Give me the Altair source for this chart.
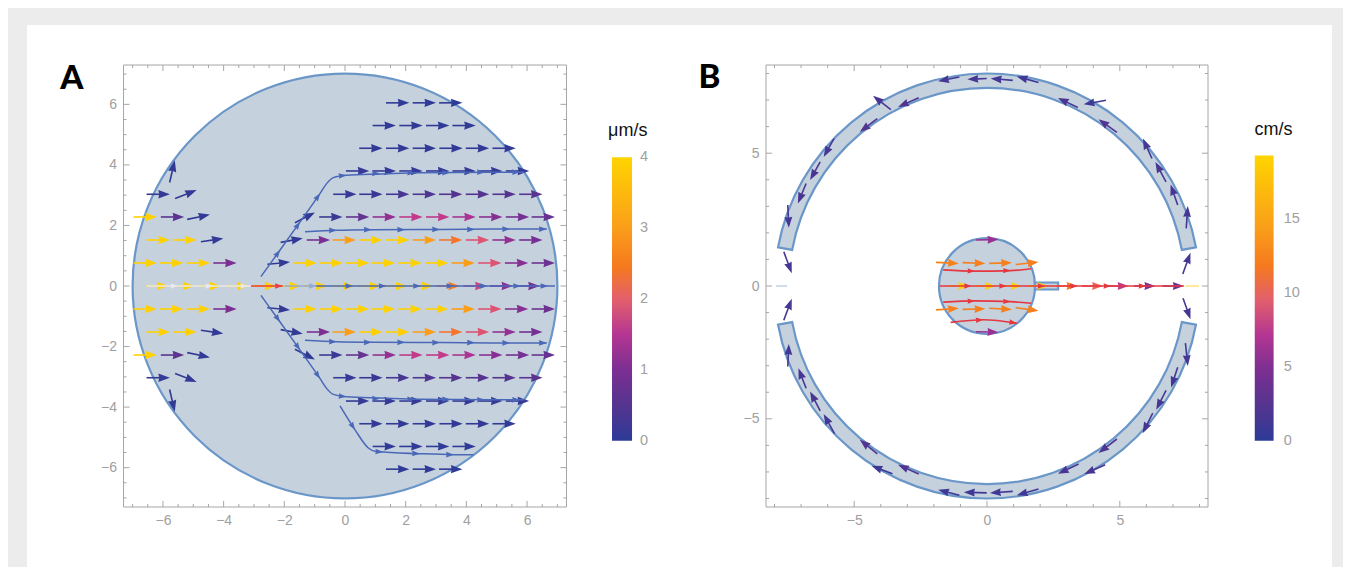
import math
import altair as alt
import pandas as pd

# ---------- panel geometry values (data units) ----------
A_DOMAIN = 7.3
B_DOMAIN = 8.32
A_TICK_LABELS = [-6, -4, -2, 0, 2, 4, 6]
B_TICK_LABELS = [-5, 0, 5]
A_TICK_ALL = [i * 0.5 for i in range(-14, 15)]
B_TICK_ALL = list(range(-8, 9))

# ---------- colour bars ----------
A_STOPS = [0, 0.5, 1, 1.5, 2, 2.45, 3, 4]
B_STOPS = [0, 2.4, 4.8, 7.2, 9.6, 11.8, 14.4, 19.3]
BAR_COLORS = ["#2c3b97", "#55348f", "#7b2f92", "#b53692", "#e2606b", "#f5791f", "#fa9e1a", "#ffd400"]
A_BAR_VALUES = [0, 1, 2, 3, 4]
B_BAR_VALUES = [0, 5, 10, 15]
A_BAR_TITLE = "μm/s"
B_BAR_TITLE = "cm/s"
# bar placement in each panel's data units: x left, x right, y of lowest value, y change per unit, label x
A_BAR = (8.80, 9.46, -5.11, 2.341, 9.72)
B_BAR = (10.08, 10.79, -5.83, 0.5564, 11.17)
A_BAR_TITLE_AT = (9.32, 5.11)
B_BAR_TITLE_AT = (10.79, 5.86)

# ---------- panel A: rows of arrows, upper half (mirrored in the lower half) ----------
A_LEN = 0.77
A_ROWS = [
    (6.05, [2.12, 3.0, 3.87], [0.03, 0.03, 0.03]),
    (5.30, [1.68, 2.56, 3.44, 4.31], [0.03, 0.03, 0.03, 0.03]),
    (4.55, [1.24, 2.12, 3.0, 3.88, 4.75, 5.63], [0.05, 0.05, 0.05, 0.05, 0.05, 0.05]),
    (3.80, [0.8, 1.68, 2.56, 3.44, 4.31, 5.19, 6.07], [0.08, 0.08, 0.08, 0.08, 0.08, 0.08, 0.08]),
    (3.03, [-5.77, 0.38, 1.24, 2.12, 3.0, 3.87, 4.75, 5.63, 6.51],
     [0.08, 0.1, 0.12, 0.3, 0.4, 0.5, 0.5, 0.5, 0.55]),
    (2.28, [-6.2, -5.3, -0.08, 0.8, 1.68, 2.56, 3.44, 4.31, 5.19, 6.07, 6.92],
     [3.95, 0.6, 0.15, 0.7, 1.2, 1.6, 1.6, 1.4, 1.1, 0.9, 0.7]),
    (1.52, [-5.77, -4.89, -0.49, 0.36, 1.24, 2.12, 3.0, 3.87, 4.75, 5.63, 6.51],
     [3.95, 3.95, 1.0, 3.0, 3.9, 3.9, 3.0, 2.4, 1.9, 1.2, 0.9]),
    (0.76, [-6.2, -5.33, -4.45, -3.57, -0.93, -0.07, 0.8, 1.65, 2.53, 3.41, 4.28, 5.16, 6.04, 6.92],
     [3.95, 3.95, 3.95, 1.0, 3.95, 3.95, 3.95, 3.95, 3.95, 3.95, 3.0, 1.9, 1.1, 0.8]),
]
# arrows on the axis (only once)
A_AXIS_TIPS = [-5.82, -4.96, -4.08, -3.17, -2.27, -1.45, -0.58, 0.31, 1.18, 2.05, 2.91, 3.79, 4.67, 5.54, 6.42]
A_AXIS_SPEED = [3.95, 3.95, 3.95, 3.95, 3.95, 3.95, 3.95, 3.95, 3.95, 3.95, 3.95, 2.5, 1.7, 1.1, 0.9]
# tilted arrows: tail x, tail y, tip x, tip y, speed (upper half)
A_TILTED = [
    (-5.78, 3.42, -5.61, 4.15, 0.05),
    (-5.60, 2.89, -4.89, 3.17, 0.05),
    (-5.20, 2.20, -4.45, 2.36, 0.05),
    (-4.75, 1.46, -4.01, 1.57, 0.06),
    (-2.56, 0.72, -1.81, 0.79, 0.05),
    (-2.12, 1.44, -1.39, 1.58, 0.06),
    (-1.65, 2.09, -0.99, 2.43, 0.06),
]

# ---------- panel A: streamlines ----------
SL_BLUE = "#4a68b8"
A_STREAM_UP = [(-2.77, 0.31), (-2.14, 1.19), (-1.48, 2.12), (-0.82, 3.06), (-0.6, 3.39),
               (-0.385, 3.58), (0.05, 3.66), (1.2, 3.7), (2.47, 3.74), (5.91, 3.76)]
A_STREAM_UP_HEADS = [(-2.14, 1.19, -55), (-1.48, 2.12, -55), (-0.82, 3.06, -55), (0.05, 3.66, -6),
                     (1.15, 3.72, 0), (2.31, 3.74, 0), (3.46, 3.74, 0), (4.61, 3.76, 0), (5.77, 3.76, 0)]
A_STREAM_MID = [(-1.32, 1.79), (-0.27, 1.84), (0.88, 1.86), (3.13, 1.87), (5.44, 1.88), (6.65, 1.88)]
A_STREAM_MID_HEADS = [(-0.27, 1.84, 0), (0.88, 1.86, 0), (1.98, 1.86, 0), (3.13, 1.87, 0),
                      (4.28, 1.87, 0), (5.44, 1.88, 0), (6.65, 1.88, 0)]
A_STREAM_LOW = [(-0.165, -3.96), (0.33, -4.75), (0.77, -5.35), (0.99, -5.46), (1.26, -5.48),
                (2.47, -5.54), (3.59, -5.57), (4.23, -5.57)]
A_STREAM_LOW_HEADS = [(0.33, -4.75, 57), (1.26, -5.48, 3), (2.47, -5.54, 2), (3.59, -5.57, 0)]
A_AXIS_WHITE = [(-6.55, 0), (-3.1, 0)]
A_AXIS_WHITE_HEADS = [(-5.49, 0, 0), (-4.34, 0, 0), (-3.19, 0, 0)]
A_AXIS_RED = [(-3.1, 0), (-2.05, 0)]
A_AXIS_RED_HEADS = [(-2.05, 0, 0)]
A_AXIS_LIGHT = [(-2.0, 0), (-0.95, 0)]
A_AXIS_LIGHT_HEADS = [(-0.93, 0, 0)]
A_AXIS_BLUE = [(-0.95, 0), (6.92, 0)]
A_AXIS_BLUE_HEADS = [(0.27, 0, 0), (1.37, 0, 0), (2.5, 0, 0), (3.6, 0, 0), (4.7, 0, 0), (5.8, 0, 0), (6.7, 0, 0)]

# ---------- panel B ----------
B_OUTER_R = 8.0
B_INNER_R = 7.46
B_RING_START_DEG = 10.5
B_DISC_R = 1.8
B_TUBE = (1.8, 2.68, -0.13, 0.13)
# tail x, tail y, tip x, tip y, speed
B_RING_ARROWS = [
    (-1.04, 7.87, -1.84, 7.71, 1.2), (-0.01, 7.81, -0.74, 7.78, 1.2), (-3.62, 6.64, -4.29, 7.16, 1.6),
    (-2.57, 7.09, -3.35, 6.74, 2.0), (-4.13, 6.30, -4.79, 5.80, 2.0), (-5.76, 5.55, -6.15, 4.86, 1.2),
    (-6.28, 4.67, -6.66, 3.99, 1.5), (-6.81, 3.86, -7.12, 3.11, 1.5), (-7.50, 3.05, -7.46, 2.19, 1.2),
    (-7.65, 1.29, -7.35, 0.48, 1.5),
    (0.97, 7.74, 0.14, 7.81, 1.2), (1.94, 7.66, 1.12, 7.89, 0.8), (3.42, 6.72, 2.67, 7.08, 1.6),
    (4.48, 6.99, 3.64, 6.84, 0.8), (4.89, 5.78, 4.20, 6.28, 2.0), (6.21, 4.80, 5.87, 5.55, 1.2),
    (6.74, 3.92, 6.34, 4.67, 1.4), (7.18, 3.05, 6.91, 3.82, 1.4), (7.50, 2.17, 7.56, 3.01, 1.2),
    (7.37, 0.45, 7.66, 1.25, 1.5),
    (-7.65, -1.29, -7.35, -0.48, 1.5), (-7.50, -3.03, -7.46, -2.18, 1.2), (-6.81, -3.85, -7.10, -3.10, 1.5),
    (-6.28, -4.70, -6.66, -3.97, 1.5), (-5.74, -5.56, -6.15, -4.82, 1.2), (-4.13, -6.32, -4.79, -5.79, 2.0),
    (-3.56, -7.07, -4.35, -6.77, 0.8), (-2.57, -7.08, -3.35, -6.73, 2.0), (-1.04, -7.88, -1.84, -7.67, 0.8),
    (-0.01, -7.79, -0.87, -7.76, 1.0),
    (7.38, -0.46, 7.66, -1.25, 1.5), (7.47, -2.15, 7.56, -3.01, 1.2), (7.18, -3.06, 6.93, -3.82, 1.2),
    (6.74, -3.93, 6.37, -4.66, 1.2), (6.24, -4.79, 5.86, -5.54, 1.0), (4.89, -5.76, 4.20, -6.29, 1.8),
    (3.45, -6.70, 2.67, -7.07, 1.6), (4.45, -6.73, 3.66, -7.08, 1.4), (1.94, -7.64, 1.12, -7.88, 1.0),
    (0.97, -7.73, 0.11, -7.79, 1.0),
]
B_DISC_ARROWS = [
    (-1.92, 0.89, -1.06, 0.85, 12.3), (-0.92, 0.88, -0.06, 0.85, 12.3), (0.08, 0.85, 0.94, 0.88, 12.3),
    (1.08, 0.81, 1.94, 0.90, 12.3),
    (-1.92, -0.90, -1.06, -0.84, 12.3), (-0.92, -0.88, -0.06, -0.86, 12.3), (0.08, -0.84, 0.94, -0.88, 12.3),
    (1.08, -0.815, 1.94, -0.93, 12.3),
    (-0.42, 1.73, 0.43, 1.75, 6.0), (-0.42, -1.72, 0.43, -1.74, 6.0),
]
B_AXIS_TIPS = [-0.67, 0.33, 1.31, 2.3, 3.41, 4.37, 5.33, 6.34, 7.41]
B_AXIS_SPEED = [19, 19, 19, 19, 12, 10.5, 7.5, 5, 3.8]
B_STREAMS_RED = [
    [(-1.65, 0.61), (-0.45, 0.56), (0.89, 0.58), (1.66, 0.65)],
    [(-1.65, -0.61), (-0.45, -0.56), (0.89, -0.59), (1.66, -0.65)],
    [(-1.37, -1.37), (-0.14, -1.27), (1.12, -1.40)],
    [(-1.77, 0), (7.41, 0)],
]
B_RED_HEADS = [(-0.45, 0.56, 2), (0.89, 0.58, 0), (-0.45, -0.56, -2), (0.89, -0.59, 2), (-0.14, -1.27, -4),
               (1.12, -1.40, 9), (-0.58, 0, 0), (0.74, 0, 0), (2.19, 0, 0), (3.41, 0, 0), (4.67, 0, 0), (5.99, 0, 0)]
B_DASH_YELLOW = [(7.47, 0), (7.98, 0)]
B_DASH_BLUE = [(-7.94, 0), (-7.52, 0)]

FILL = "#c6d1de"
EDGE = "#6a97c8"
FRAME = "#a6a6a6"
TEXT_GRAY = "#a0a0a0"
BIG_HEAD = "M0,0L-2,-0.72L-1.85,0L-2,0.72Z"
FONT = "Liberation Sans"


def arrow_frame(items):
    rows = []
    for x0, y0, x1, y1, v in items:
        ang = math.degrees(math.atan2(-(y1 - y0), x1 - x0)) % 360
        rows.append(dict(x0=x0, y0=y0, x1=x1, y1=y1, v=v, ang=ang,
                         xe=x0 + 0.72 * (x1 - x0), ye=y0 + 0.72 * (y1 - y0)))
    return pd.DataFrame(rows)


def mirror(items):
    return [(a, -b, c, -d, v) for a, b, c, d, v in items]


def rows_to_items(rows, length):
    out = []
    for y, tips, speeds in rows:
        for t, v in zip(tips, speeds):
            out.append((t - length, y, t, y, v))
    return out


def make_panel(domain, rng_x, rng_y, ticks_all, ticks_major, labels, tick_unit, stops, left_offset, radius_px):
    sx = alt.Scale(domain=[-domain, domain], range=rng_x, nice=False, zero=False)
    sy = alt.Scale(domain=[-domain, domain], range=rng_y, nice=False, zero=False)
    sr = alt.Scale(type="linear", domain=[0, domain], range=[0, radius_px])
    cs = alt.Scale(domain=stops, range=BAR_COLORS, clamp=True)
    color = alt.Color("v:Q", scale=cs, legend=None)
    x_axis = alt.Axis(orient="bottom", values=labels, title=None, domain=False, ticks=False, grid=False,
                      labelColor=TEXT_GRAY, labelFontSize=14, labelFont=FONT, labelPadding=6, offset=-60)
    y_axis = alt.Axis(orient="left", values=labels, title=None, domain=False, ticks=False, grid=False,
                      labelColor=TEXT_GRAY, labelFontSize=14, labelFont=FONT, labelPadding=7,
                      offset=-left_offset)

    def X(f):
        return alt.X(f, type="quantitative", scale=sx, axis=x_axis)

    def Y(f):
        return alt.Y(f, type="quantitative", scale=sy, axis=y_axis)

    frame_df = pd.DataFrame([dict(a=-domain, b=domain, c=-domain, d=domain)])
    frame = alt.Chart(frame_df).mark_rect(fill="transparent", stroke=FRAME, strokeWidth=1).encode(
        x=X("a"), x2="b", y=Y("c"), y2="d")
    rows = []
    for t in ticks_all:
        ln = 2 * tick_unit if t in ticks_major else tick_unit
        rows.append(dict(x=t, y=-domain, x2=t, y2=-domain + ln))
        rows.append(dict(x=t, y=domain, x2=t, y2=domain - ln))
        rows.append(dict(x=-domain, y=t, x2=-domain + ln, y2=t))
        rows.append(dict(x=domain, y=t, x2=domain - ln, y2=t))
    ticks = alt.Chart(pd.DataFrame(rows)).mark_rule(color=FRAME, strokeWidth=1).encode(
        x=X("x"), y=Y("y"), x2="x2", y2="y2")

    def sector(r_out, r_in, t0, t1):
        df = pd.DataFrame([dict(x=0, y=0, r=r_out, r2=r_in, t0=t0, t1=t1)])
        return alt.Chart(df).mark_arc(fill=FILL, stroke=EDGE, strokeWidth=2.2).encode(
            x=X("x"), y=Y("y"),
            theta=alt.Theta("t0:Q", scale=None, stack=False), theta2=alt.Theta2("t1"),
            radius=alt.Radius("r:Q", scale=sr), radius2=alt.Radius2("r2"),
        )

    def arrows(items, size, shaft=1.6):
        df = arrow_frame(items)
        shafts = alt.Chart(df).mark_rule(strokeWidth=shaft).encode(
            x=X("x0"), y=Y("y0"), x2="xe", y2="ye", color=color)
        heads = alt.Chart(df).mark_point(shape=BIG_HEAD, filled=True, opacity=1, size=size, strokeWidth=0).encode(
            x=X("x1"), y=Y("y1"), angle=alt.Angle("ang:Q", scale=None), color=color)
        return [shafts, heads]

    def stream(points, col, heads=(), width=1.5, head_size=62):
        out = []
        df = pd.DataFrame([dict(x=p[0], y=p[1], i=i) for i, p in enumerate(points)])
        out.append(alt.Chart(df).mark_line(color=col, strokeWidth=width, interpolate="monotone").encode(
            x=X("x"), y=Y("y"), order="i:Q"))
        if heads:
            hd = pd.DataFrame([dict(x=h[0], y=h[1], ang=h[2] % 360) for h in heads])
            out.append(alt.Chart(hd).mark_point(shape=BIG_HEAD, filled=True, opacity=1, size=head_size,
                                                strokeWidth=0, color=col).encode(
                x=X("x"), y=Y("y"), angle=alt.Angle("ang:Q", scale=None)))
        return out

    def letter(s, x, y):
        df = pd.DataFrame([dict(x=x, y=y, s=s)])
        return alt.Chart(df).mark_text(font="Lato", fontSize=33, fontWeight=900, color="#000000").encode(
            x=X("x"), y=Y("y"), text="s:N")

    def rect(x0, x1, y0, y1):
        df = pd.DataFrame([dict(a=x0, b=x1, c=y0, d=y1)])
        return alt.Chart(df).mark_rect(fill=FILL, stroke=EDGE, strokeWidth=2).encode(
            x=X("a"), x2="b", y=Y("c"), y2="d")

    def colorbar(bar, values, title, title_at):
        x0, x1, y_low, per, lx = bar
        top = stops[-1]
        grad = alt.Gradient(
            gradient="linear", x1=0, y1=1, x2=0, y2=0,
            stops=[alt.GradientStop(offset=s / top, color=c) for s, c in zip(stops, BAR_COLORS)],
        )
        bdf = pd.DataFrame([dict(a=x0, b=x1, c=y_low, d=y_low + per * top)])
        body = alt.Chart(bdf).mark_rect(fill=grad).encode(x=X("a"), x2="b", y=Y("c"), y2="d")
        ldf = pd.DataFrame([dict(x=lx, y=y_low + per * v, s=str(v)) for v in values])
        labs = alt.Chart(ldf).mark_text(align="left", font=FONT, fontSize=14.5, color=TEXT_GRAY).encode(
            x=X("x"), y=Y("y"), text="s:N")
        tdf = pd.DataFrame([dict(x=title_at[0], y=title_at[1], s=title)])
        ttl = alt.Chart(tdf).mark_text(font=FONT, fontSize=18, color="#111111").encode(
            x=X("x"), y=Y("y"), text="s:N")
        return [body, labs, ttl]

    return dict(frame=frame, ticks=ticks, sector=sector, arrows=arrows, stream=stream, letter=letter,
                rect=rect, colorbar=colorbar)


def mir_pts(pts):
    return [(x, -y) for x, y in pts]


def mir_heads(hs):
    return [(x, -y, -a) for x, y, a in hs]


# ---------- panel A ----------
pa = make_panel(A_DOMAIN, [96.5, 539.5], [482, 40], A_TICK_ALL, A_TICK_LABELS, A_TICK_LABELS, 0.1,
                A_STOPS, 96.5, 221.5)
a_items = rows_to_items(A_ROWS, A_LEN)
a_items = a_items + mirror(a_items) + A_TILTED + mirror(A_TILTED)
a_items += [(t - A_LEN, 0, t, 0, v) for t, v in zip(A_AXIS_TIPS, A_AXIS_SPEED)]
a_layers = [pa["sector"](7.0, 0, 0, 2 * math.pi)] + pa["arrows"](a_items, 134)
a_layers += pa["stream"](A_STREAM_UP, SL_BLUE, A_STREAM_UP_HEADS)
a_layers += pa["stream"](mir_pts(A_STREAM_UP), SL_BLUE, mir_heads(A_STREAM_UP_HEADS))
a_layers += pa["stream"](A_STREAM_MID, SL_BLUE, A_STREAM_MID_HEADS)
a_layers += pa["stream"](mir_pts(A_STREAM_MID), SL_BLUE, mir_heads(A_STREAM_MID_HEADS))
a_layers += pa["stream"](A_STREAM_LOW, SL_BLUE, A_STREAM_LOW_HEADS)
a_layers += pa["stream"](A_AXIS_WHITE, "#e8e8ee", A_AXIS_WHITE_HEADS)
a_layers += pa["stream"](A_AXIS_RED, "#e8403f", A_AXIS_RED_HEADS)
a_layers += pa["stream"](A_AXIS_LIGHT, "#93a9d6", A_AXIS_LIGHT_HEADS)
a_layers += pa["stream"](A_AXIS_BLUE, SL_BLUE, A_AXIS_BLUE_HEADS)
a_layers += pa["colorbar"](A_BAR, A_BAR_VALUES, A_BAR_TITLE, A_BAR_TITLE_AT)
panel_a = alt.layer(pa["frame"], pa["ticks"], *a_layers, pa["letter"]("A", -9.0, 6.85))

# ---------- panel B ----------
pb = make_panel(B_DOMAIN, [739, 1181], [482, 40], B_TICK_ALL, B_TICK_LABELS, B_TICK_LABELS, 0.115,
                B_STOPS, 739, 221)
rs = math.radians(B_RING_START_DEG)
b_layers = [
    pb["sector"](B_OUTER_R, B_INNER_R, -math.pi / 2 + rs, math.pi / 2 - rs),
    pb["sector"](B_OUTER_R, B_INNER_R, math.pi / 2 + rs, 3 * math.pi / 2 - rs),
    pb["sector"](B_DISC_R, 0, 0, 2 * math.pi),
    pb["rect"](*B_TUBE),
]
b_items = B_RING_ARROWS + B_DISC_ARROWS
b_items += [(t - 0.8, 0, t, 0, v) for t, v in zip(B_AXIS_TIPS, B_AXIS_SPEED)]
b_layers += pb["arrows"](b_items, 120)
for s in B_STREAMS_RED:
    b_layers += pb["stream"](s, "#e5373f", width=1.7)
b_layers += pb["stream"]([(-1.77, 0), (-1.76, 0)], "#e5373f", B_RED_HEADS, head_size=56)
b_layers += pb["stream"](B_DASH_YELLOW, "#ffe27a")
b_layers += pb["stream"](B_DASH_BLUE, "#c3d0ea")
b_layers += pb["colorbar"](B_BAR, B_BAR_VALUES, B_BAR_TITLE, B_BAR_TITLE_AT)
panel_b = alt.layer(pb["frame"], pb["ticks"], *b_layers, pb["letter"]("B", -10.45, 7.82))

chart = (
    alt.layer(panel_a, panel_b)
    .resolve_scale(x="independent", y="independent", color="independent", radius="independent")
    .resolve_axis(x="independent", y="independent")
    .properties(width=1305, height=542, background="#ececec",
                padding={"left": 19, "top": 17, "right": 11, "bottom": 0},
                autosize=alt.AutoSizeParams(type="none"))
    .configure_view(fill="white", stroke=None)
)
chart.save("out.html", embed_options={"renderer": "svg", "actions": False})
